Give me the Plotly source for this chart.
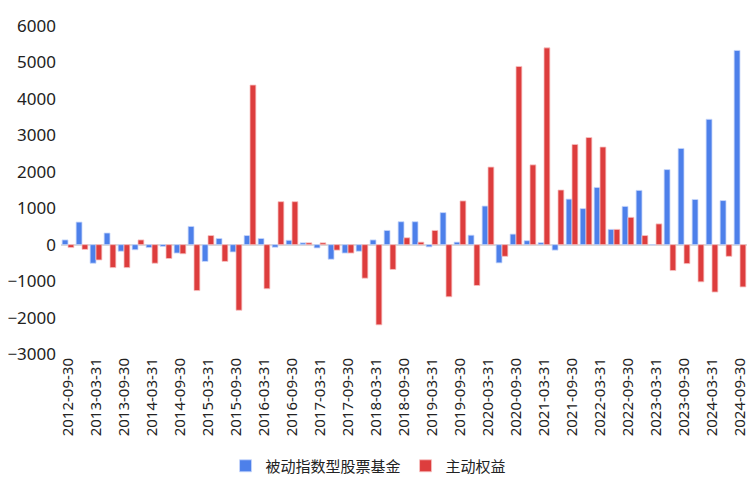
import pandas as pd
import plotly.graph_objects as go

# quarter-end dates, 2012-09-30 .. 2024-09-30
quarters = [d.strftime("%Y-%m-%d") for d in pd.date_range("2012-09-30", periods=49, freq="QE")]
tick_labels = quarters[::2]

passive = [130, 620, -510, 320, -180, -140, -80, -50, -230, 500,
           -460, 170, -200, 250, 170, -70, 120, 50, -90, -400,
           -230, -180, 130, 390, 630, 630, -60, 880, 70, 260,
           1060, -500, 290, 110, 55, -150, 1250, 990, 1570, 420,
           1050, 1490, -10, 2060, 2640, 1240, 3440, 1210, 5330]
active = [-80, -130, -420, -630, -630, 130, -510, -380, -250, -1260,
          250, -460, -1800, 4380, -1210, 1180, 1180, 50, 50, -150,
          -230, -920, -2200, -680, 190, 70, 390, -1430, 1200, -1120,
          2130, -320, 4890, 2190, 5400, 1500, 2750, 2940, 2680, 420,
          750, 250, 570, -710, -520, -1020, -1300, -320, -1160]

fig = go.Figure()

fig.add_trace(go.Bar(
    x=quarters, y=passive, name="被动指数型股票基金",
    marker=dict(color="#4d80ea", line=dict(color="#c9d8fb", width=0.8))
))
fig.add_trace(go.Bar(
    x=quarters, y=active, name="主动权益",
    marker=dict(color="#dd3d3d", line=dict(color="#f7c4c4", width=0.8))
))

# page body adds an 8px margin, so the figure is sized to fit the window
fig.update_layout(
    width=748, height=492,
    margin=dict(l=53, r=9, t=18, b=146),
    paper_bgcolor="white", plot_bgcolor="white",
    font=dict(family="Noto Sans, Noto Sans CJK SC", color="#222"),
    barmode="group", bargap=0.16, bargroupgap=0.0,
    showlegend=True,
    legend=dict(orientation="h", xref="container", yref="container",
                x=0.482, xanchor="center", y=0.069, yanchor="middle",
                font=dict(size=15, family="Noto Sans CJK SC"), itemwidth=30,
                traceorder="normal"),
)
fig.update_xaxes(type="category", tickmode="array", tickvals=tick_labels, ticktext=tick_labels,
                 tickangle=-90, tickfont=dict(size=15), showgrid=False, showline=False,
                 ticks="", range=[-0.5, 48.5], automargin=False)
fig.update_yaxes(range=[-3000, 6000], dtick=1000, tickfont=dict(size=17), showgrid=False,
                 zeroline=True, zerolinecolor="#d9d9d9", zerolinewidth=2, ticks="",
                 automargin=False, ticklabelstandoff=4)

fig.write_html("out.html")
